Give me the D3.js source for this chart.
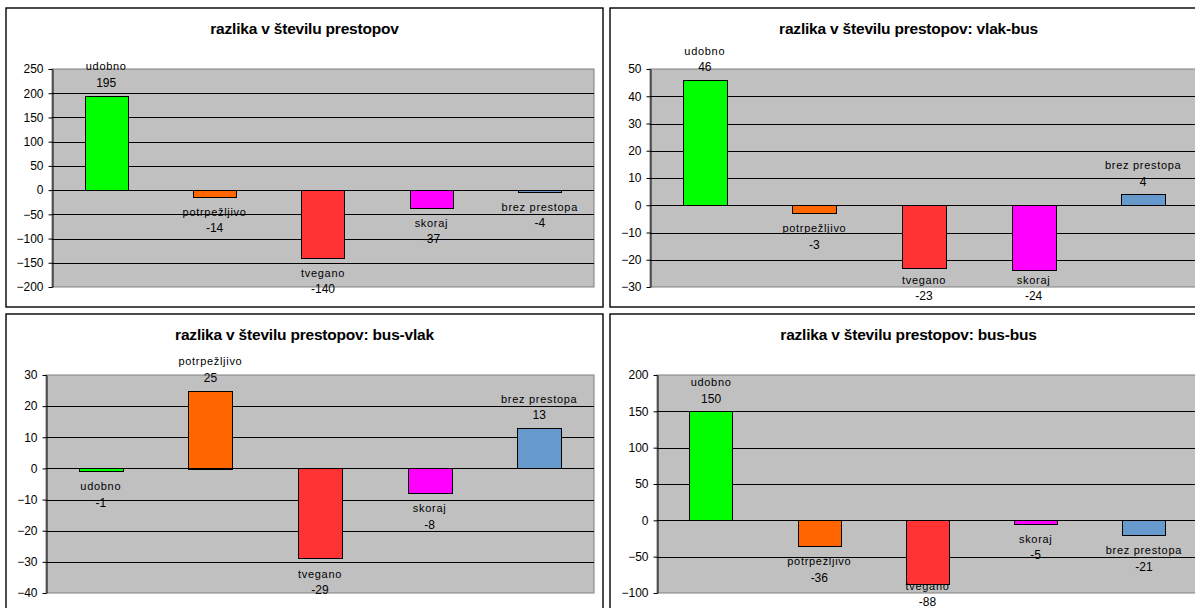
<!DOCTYPE html>
<html>
<head>
<meta charset="utf-8">
<script src="https://cdn.jsdelivr.net/npm/d3@7"></script>
<style>
  html, body { margin: 0; padding: 0; background: #fff; overflow: hidden; }
  svg { display: block; }
  text { font-family: "Liberation Sans", Arial, sans-serif; fill: #000; }
</style>
</head>
<body>
<svg id="chart" width="1195" height="608"></svg>
<script>
// Categories shared by all four charts
const categories = ["udobno", "potrpežljivo", "tvegano", "skoraj", "brez prestopa"];
const barColors = ["#00ff00", "#ff6600", "#ff3333", "#ff00ff", "#6699cc"];

// Chart titles
const titles = [
  "razlika v številu prestopov",
  "razlika v številu prestopov: vlak-bus",
  "razlika v številu prestopov: bus-vlak",
  "razlika v številu prestopov: bus-bus"
];

// Values per chart
const totalValues   = [195, -14, -140, -37, -4];
const vlakBusValues = [46, -3, -23, -24, 4];
const busVlakValues = [-1, 25, -29, -8, 13];
const busBusValues  = [150, -36, -88, -5, -21];

// Value-axis tick labels per chart
const totalTicks   = [-200, -150, -100, -50, 0, 50, 100, 150, 200, 250];
const vlakBusTicks = [-30, -20, -10, 0, 10, 20, 30, 40, 50];
const busVlakTicks = [-40, -30, -20, -10, 0, 10, 20, 30];
const busBusTicks  = [-100, -50, 0, 50, 100, 150, 200];

// Panel frames (chart areas) and inner plot offsets
const panels = [
  { x: 6,   y: 8,   w: 597, h: 299, plotLeft: 46, values: totalValues,   ticks: totalTicks },
  { x: 610, y: 8,   w: 597, h: 299, plotLeft: 40, values: vlakBusValues, ticks: vlakBusTicks },
  { x: 6,   y: 314, w: 597, h: 299, plotLeft: 40, values: busVlakValues, ticks: busVlakTicks },
  { x: 610, y: 314, w: 597, h: 299, plotLeft: 47, values: busBusValues,  ticks: busBusTicks }
];

const svg = d3.select("#chart");

panels.forEach((p, i) => {
  const g = svg.append("g").attr("transform", `translate(${p.x},${p.y})`);

  // chart area frame
  g.append("rect")
    .attr("x", 0).attr("y", 0).attr("width", p.w).attr("height", p.h)
    .attr("fill", "#fff").attr("stroke", "#000").attr("stroke-width", 1.4);

  // title
  g.append("text")
    .attr("x", p.w / 2).attr("y", 26)
    .attr("text-anchor", "middle")
    .attr("font-size", 15.5).attr("font-weight", "bold")
    .attr("letter-spacing", -0.2)
    .text(titles[i]);

  const plotTop = 61, plotBottom = 279, plotRight = 588;
  const W = plotRight - p.plotLeft;
  const plot = g.append("g").attr("transform", `translate(${p.plotLeft},0)`);

  const x = d3.scaleBand().domain(categories).range([0, W])
    .paddingInner(0.6).paddingOuter(0.3);
  const y = d3.scaleLinear()
    .domain([d3.min(p.ticks), d3.max(p.ticks)])
    .range([plotBottom, plotTop]);

  // plot background with grey border
  plot.append("rect")
    .attr("x", 0).attr("y", plotTop).attr("width", W).attr("height", plotBottom - plotTop)
    .attr("fill", "#c0c0c0").attr("stroke", "#808080").attr("stroke-width", 1);

  // horizontal gridlines (inner ticks)
  const inner = p.ticks.filter(t => t !== d3.min(p.ticks) && t !== d3.max(p.ticks));
  plot.selectAll("line.grid").data(inner).join("line")
    .attr("class", "grid")
    .attr("x1", 0).attr("x2", W)
    .attr("y1", d => Math.round(y(d)) + 0.5).attr("y2", d => Math.round(y(d)) + 0.5)
    .attr("stroke", "#000").attr("stroke-width", 1);

  // bars
  const data = categories.map((c, k) => ({ c, v: p.values[k], color: barColors[k] }));
  plot.selectAll("rect.bar").data(data).join("rect")
    .attr("class", "bar")
    .attr("x", d => Math.round(x(d.c)) + 0.5)
    .attr("width", Math.round(x.bandwidth()))
    .attr("y", d => Math.round(y(Math.max(0, d.v))) + 0.5)
    .attr("height", d => Math.max(1, Math.round(Math.abs(y(d.v) - y(0)))))
    .attr("fill", d => d.color)
    .attr("stroke", "#000").attr("stroke-width", 1);

  // zero line above bars
  plot.append("line")
    .attr("x1", 0).attr("x2", W)
    .attr("y1", Math.round(y(0)) + 0.5).attr("y2", Math.round(y(0)) + 0.5)
    .attr("stroke", "#000").attr("stroke-width", 1);

  // value axis
  const axis = d3.axisLeft(y).tickValues(p.ticks).tickSize(4).tickSizeOuter(0).tickPadding(5);
  const ag = plot.append("g").attr("transform", "translate(0.5,0)").call(axis);
  ag.select(".domain").attr("stroke", "#000");
  ag.selectAll(".tick line").attr("stroke", "#000");
  ag.selectAll(".tick text")
    .attr("font-size", 12).attr("font-family", "Liberation Sans, Arial, sans-serif")
    .attr("fill", "#000");

  // data labels: category name over value, placed beyond the bar end
  const labels = plot.selectAll("g.lbl").data(data).join("g").attr("class", "lbl")
    .attr("transform", d => `translate(${x(d.c) + x.bandwidth() / 2},0)`);

  labels.each(function (d) {
    let nameY, valY;
    if (d.v >= 0) {
      valY = y(d.v) - 13;
      nameY = valY - 16;
    } else {
      nameY = y(d.v) + 15;
      valY = nameY + 16;
      const maxY = p.h - 11;   // keep the pair inside the chart area
      if (valY > maxY) { valY = maxY; nameY = valY - 16; }
    }
    const s = d3.select(this);
    s.append("text")
      .attr("y", nameY).attr("dy", "0.35em")
      .attr("text-anchor", "middle")
      .attr("font-size", 11).attr("letter-spacing", 0.7)
      .text(d.c);
    s.append("text")
      .attr("y", valY).attr("dy", "0.35em")
      .attr("text-anchor", "middle")
      .attr("font-size", 12)
      .text(d.v);
  });
});
</script>
</body>
</html>
